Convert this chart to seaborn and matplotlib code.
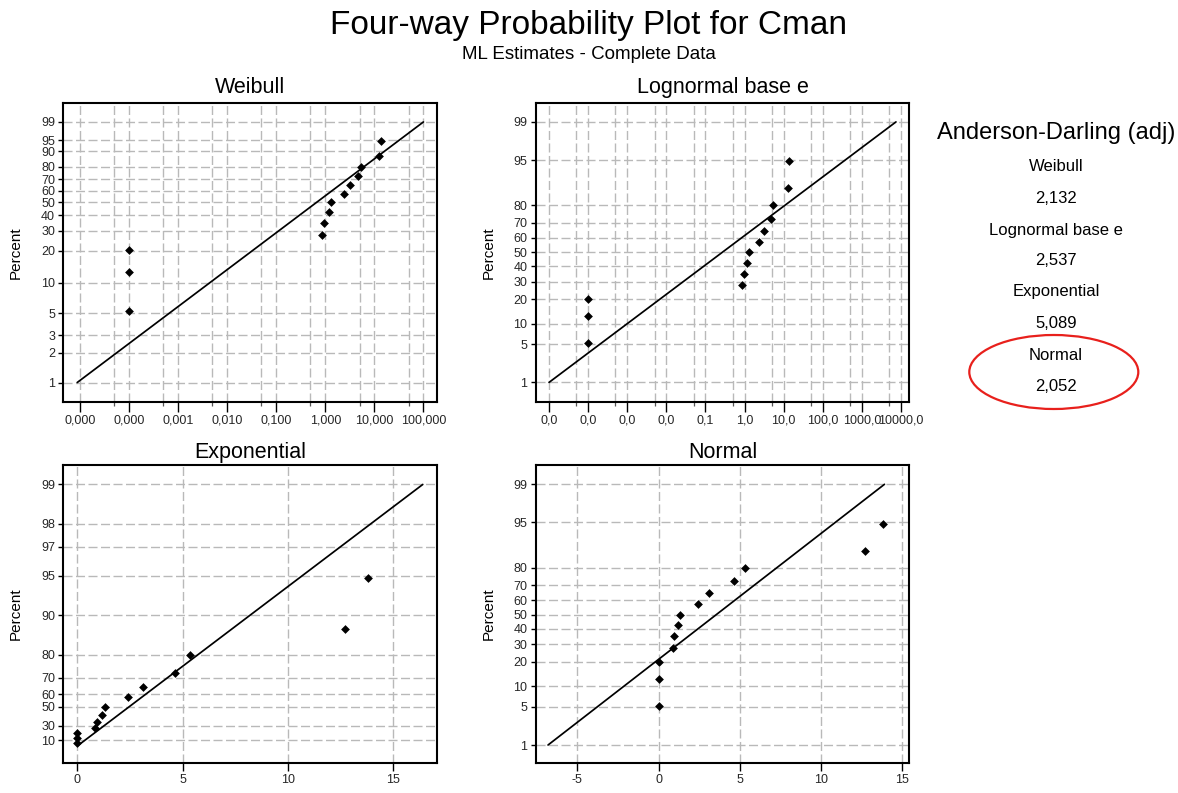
import math
import numpy as np
import pandas as pd
import matplotlib
matplotlib.use("Agg")
import matplotlib.pyplot as plt
from matplotlib.patches import Ellipse
from matplotlib.ticker import FixedLocator, FixedFormatter, NullFormatter
import seaborn as sns

# ---------------- data ----------------
cman = [0.0001, 0.0001, 0.0001, 0.86, 0.96, 1.18, 1.30, 2.40, 3.12, 4.62, 5.35, 12.70, 13.80]
percent = [5.2, 12.7, 20.1, 27.6, 35.1, 42.5, 50.0, 57.5, 64.9, 72.4, 79.9, 87.3, 94.8]

# fitted-distribution lines: x at 1 % and 99 %
fit_pct = [1, 99]
weibull_fit_x = [8.8e-6, 100.0]
lognormal_fit_x = [1.0e-5, 7450.0]
exponential_fit_x = [0.036, 16.4]
normal_fit_x = [-6.8, 13.9]

# percent tick labels on each probability axis
weibull_yticks = [1, 2, 3, 5, 10, 20, 30, 40, 50, 60, 70, 80, 90, 95, 99]
normal_yticks = [1, 5, 10, 20, 30, 40, 50, 60, 70, 80, 95, 99]
exponential_yticks = [10, 30, 50, 60, 70, 80, 90, 95, 97, 98, 99]

weibull_xticks = [1e-5, 1e-4, 1e-3, 1e-2, 1e-1, 1, 10, 100]
weibull_xlabels = ["0,000", "0,000", "0,001", "0,010", "0,100", "1,000", "10,000", "100,000"]
lognormal_xticks = [1e-5, 1e-4, 1e-3, 1e-2, 1e-1, 1, 10, 100, 1000, 10000]
lognormal_xlabels = ["0,0", "0,0", "0,0", "0,0", "0,1", "1,0", "10,0", "100,0", "1000,0", "10000,0"]
normal_xticks = [-5, 0, 5, 10, 15]
exponential_xticks = [0, 5, 10, 15]

ad_names = ["Weibull", "Lognormal base e", "Exponential", "Normal"]
ad_values = [2.132, 2.537, 5.089, 2.052]

# ---------------- probability-paper transforms ----------------
_A = [-3.969683028665376e+01, 2.209460984245205e+02, -2.759285104469687e+02,
      1.383577518672690e+02, -3.066479806614716e+01, 2.506628277459239e+00]
_B = [-5.447609879822406e+01, 1.615858368580409e+02, -1.556989798598866e+02,
      6.680131188771972e+01, -1.328068155288572e+01]
_C = [-7.784894002430293e-03, -3.223964580411365e-01, -2.400758277161838e+00,
      -2.549671016440094e+00, 4.374664141464968e+00, 2.938163982698783e+00]
_D = [7.784695709041462e-03, 3.224671290700398e-01, 2.445134137142996e+00,
      3.754408661907416e+00]


def _norm_ppf(p):
    p = np.clip(np.asarray(p, dtype=float), 1e-12, 1 - 1e-12)
    plow = 0.02425
    q = p - 0.5
    r = q * q
    central = ((((((_A[0] * r + _A[1]) * r + _A[2]) * r + _A[3]) * r + _A[4]) * r + _A[5]) * q /
               (((((_B[0] * r + _B[1]) * r + _B[2]) * r + _B[3]) * r + _B[4]) * r + 1))
    ql = np.sqrt(-2 * np.log(np.minimum(p, 1 - p)))
    tail = ((((((_C[0] * ql + _C[1]) * ql + _C[2]) * ql + _C[3]) * ql + _C[4]) * ql + _C[5]) /
            ((((_D[0] * ql + _D[1]) * ql + _D[2]) * ql + _D[3]) * ql + 1))
    out = np.where(p < plow, tail, np.where(p > 1 - plow, -tail, central))
    return out


_erf = np.vectorize(math.erf)


def normal_fwd(pct):
    return _norm_ppf(np.asarray(pct, dtype=float) / 100.0)


def normal_inv(z):
    z = np.asarray(z, dtype=float)
    return 50.0 * (1.0 + _erf(z / math.sqrt(2.0)))


def weibull_fwd(pct):
    p = np.clip(np.asarray(pct, dtype=float) / 100.0, 1e-12, 1 - 1e-12)
    return np.log(-np.log(1.0 - p))


def weibull_inv(y):
    y = np.asarray(y, dtype=float)
    return 100.0 * (1.0 - np.exp(-np.exp(y)))


def expo_fwd(pct):
    p = np.minimum(np.asarray(pct, dtype=float) / 100.0, 1 - 1e-12)
    return -np.log(1.0 - p)


def expo_inv(y):
    y = np.asarray(y, dtype=float)
    return 100.0 * (1.0 - np.exp(-y))


# ---------------- style ----------------
sns.set_theme(style="white")
plt.rcParams["font.family"] = ["Liberation Sans", "DejaVu Sans"]
plt.rcParams["axes.unicode_minus"] = False

W, H = 1178, 793
fig = plt.figure(figsize=(W / 100, H / 100), dpi=100)
fig.patch.set_facecolor("white")

GRID = dict(color="#b9b9b9", linewidth=1.0, linestyle=(0, (6.5, 2.5)))


def px_rect(x0, y0, x1, y1):
    return [x0 / W, 1 - y1 / H, (x1 - x0) / W, (y1 - y0) / H]


def panel(rect, title, fit_x, scale_fns, yticks, ylim, xlim,
          xticks, xlabels=None, logx=False, title_pad=7, xtick_len=6.5):
    ax = fig.add_axes(rect)
    pts = pd.DataFrame({"Cman": cman, "Percent": percent})
    line = pd.DataFrame({"Cman": fit_x, "Percent": fit_pct})
    sns.lineplot(data=line, x="Cman", y="Percent", ax=ax, color="black",
                 linewidth=1.25, sort=False, estimator=None, zorder=3)
    sns.scatterplot(data=pts, x="Cman", y="Percent", ax=ax, color="black",
                    marker="D", s=20, linewidth=0, zorder=4, legend=False)
    if logx:
        ax.set_xscale("log")
    ax.set_yscale("function", functions=scale_fns)
    ax.set_xlim(*xlim)
    ax.set_ylim(*ylim)

    ax.yaxis.set_major_locator(FixedLocator(yticks))
    ax.yaxis.set_major_formatter(FixedFormatter([str(t) for t in yticks]))
    ax.yaxis.set_minor_locator(FixedLocator([]))
    ax.xaxis.set_major_locator(FixedLocator(xticks))
    if xlabels is None:
        xlabels = [str(t) for t in xticks]
    ax.xaxis.set_major_formatter(FixedFormatter(xlabels))
    if logx:
        minors = [5 * t for t in xticks[:-1]]
        ax.xaxis.set_minor_locator(FixedLocator(minors))
        ax.xaxis.set_minor_formatter(NullFormatter())
        ax.grid(True, which="minor", axis="x", **GRID)
    else:
        ax.xaxis.set_minor_locator(FixedLocator([]))
    ax.grid(True, which="major", axis="both", **GRID)
    ax.set_axisbelow(True)

    ax.tick_params(axis="y", which="major", direction="out", length=3.5,
                   width=1.0, color="black", labelsize=9, pad=2.5, left=True)
    ax.tick_params(axis="x", which="major", direction="out", length=xtick_len,
                   width=1.0, color="black", labelsize=9, pad=2, bottom=True)
    ax.tick_params(axis="x", which="minor", direction="out", length=3,
                   width=0.9, color="#555555", bottom=True)
    for s in ax.spines.values():
        s.set_color("black")
        s.set_linewidth(1.5)
    ax.set_xlabel("")
    ax.set_ylabel("Percent", fontsize=11, color="black")
    ax.yaxis.set_label_coords(-0.108, 0.5)
    ax.set_title(title, fontsize=15.5, color="black", pad=title_pad)
    return ax


panel(px_rect(63.3, 103.3, 436.7, 401.7), "Weibull", weibull_fit_x,
      (weibull_fwd, weibull_inv), weibull_yticks, (0.638, 99.921),
      (10 ** -5.339, 10 ** 2.271), weibull_xticks, weibull_xlabels,
      logx=True, title_pad=7.2, xtick_len=7)

panel(px_rect(535.7, 103.3, 909.3, 401.7), "Lognormal base e", lognormal_fit_x,
      (normal_fwd, normal_inv), normal_yticks, (0.378, 99.608),
      (10 ** -5.341, 10 ** 4.213), lognormal_xticks, lognormal_xlabels,
      logx=True, title_pad=7.2, xtick_len=7)

panel(px_rect(63.3, 465.0, 437.3, 763.3), "Exponential", exponential_fit_x,
      (expo_fwd, expo_inv), exponential_yticks, (-35.4, 99.29),
      (-0.66, 17.09), exponential_xticks, title_pad=5, xtick_len=6)

panel(px_rect(535.7, 465.0, 909.3, 763.3), "Normal", normal_fit_x,
      (normal_fwd, normal_inv), normal_yticks, (0.399, 99.622),
      (-7.56, 15.43), normal_xticks, title_pad=5, xtick_len=6)

# ---------------- headings ----------------
fig.text(0.5, 1 - 34 / H, "Four-way Probability Plot for Cman", ha="center",
         va="baseline", fontsize=24, color="black")
fig.text(0.5, 1 - 59 / H, "ML Estimates - Complete Data", ha="center",
         va="baseline", fontsize=13.5, color="black")

# ---------------- Anderson-Darling summary ----------------
cx = 1056
fig.text(cx / W, 1 - 133 / H, "Anderson-Darling (adj)", ha="center",
         va="center", fontsize=17, color="black")
row_y = [166.7, 198.3, 230.0, 260.5, 291.7, 323.3, 355.0, 386.7]
for i, (name, val) in enumerate(zip(ad_names, ad_values)):
    fig.text(cx / W, 1 - row_y[2 * i] / H, name, ha="center", va="center",
             fontsize=12, color="black")
    fig.text(cx / W, 1 - row_y[2 * i + 1] / H, f"{val:.3f}".replace(".", ","),
             ha="center", va="center", fontsize=12, color="black")

fig.add_artist(Ellipse((1053.8 / W, 1 - 372 / H), 169 / W, 74 / H,
                       transform=fig.transFigure, fill=False,
                       edgecolor="#e8201c", linewidth=1.6))

fig.savefig("out.png", dpi=100, facecolor="white")
